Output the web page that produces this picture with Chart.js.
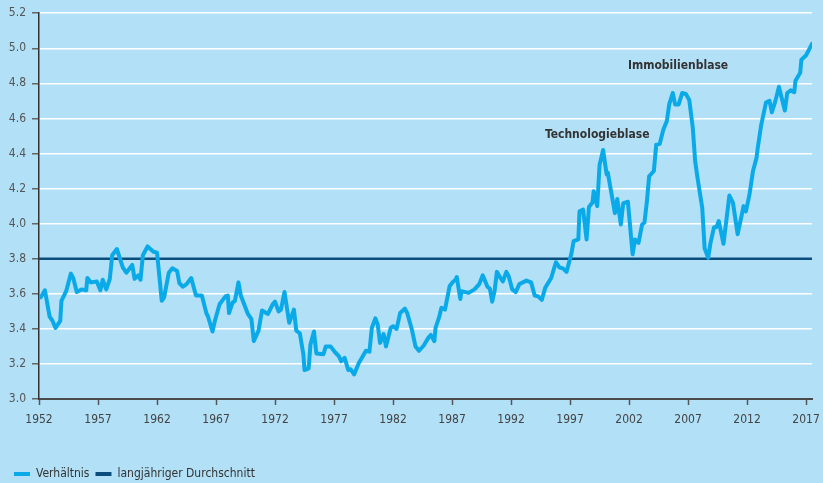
<!DOCTYPE html>
<html><head><meta charset="utf-8">
<script src="https://cdn.jsdelivr.net/npm/chart.js@4/dist/chart.umd.min.js"></script>
<style>
html,body{margin:0;padding:0;background:#b2e0f7;}
#wrap{width:823px;height:483px;position:relative;}
</style></head>
<body><div id="wrap"><canvas id="c" width="823" height="483"></canvas></div>
<script>
const years = [1952.15,1952.5,1952.9,1953.15,1953.4,1953.8,1953.9,1954.3,1954.7,1954.9,1955.2,1955.6,1956.0,1956.1,1956.4,1956.9,1957.2,1957.4,1957.7,1958.0,1958.2,1958.6,1959.1,1959.4,1959.9,1960.1,1960.4,1960.6,1960.8,1961.2,1961.7,1962.0,1962.4,1962.6,1963.0,1963.3,1963.7,1963.9,1964.2,1964.5,1964.9,1965.3,1965.8,1966.2,1966.3,1966.7,1966.9,1967.3,1967.8,1968.0,1968.1,1968.4,1968.6,1968.9,1969.1,1969.7,1970.0,1970.2,1970.6,1970.9,1971.4,1971.8,1972.0,1972.3,1972.5,1972.8,1973.2,1973.6,1973.8,1974.1,1974.4,1974.5,1974.85,1975.0,1975.3,1975.5,1976.1,1976.3,1976.7,1977.1,1977.4,1977.6,1977.9,1978.2,1978.4,1978.7,1979.1,1979.4,1979.7,1980.0,1980.2,1980.5,1980.7,1980.9,1981.2,1981.4,1981.8,1982.0,1982.3,1982.6,1983.0,1983.2,1983.6,1983.9,1984.2,1984.6,1985.0,1985.2,1985.5,1985.6,1985.9,1986.1,1986.4,1986.8,1987.1,1987.3,1987.4,1987.7,1987.8,1988.4,1988.9,1989.3,1989.6,1990.0,1990.2,1990.4,1990.6,1990.8,1991.1,1991.3,1991.6,1991.8,1992.1,1992.4,1992.7,1993.3,1993.7,1994.0,1994.3,1994.6,1994.9,1995.4,1995.8,1996.1,1996.4,1996.7,1997.1,1997.3,1997.7,1997.8,1998.1,1998.4,1998.6,1998.9,1999.0,1999.3,1999.5,1999.8,2000.1,2000.2,2000.8,2001.0,2001.3,2001.5,2001.9,2002.3,2002.5,2002.8,2003.1,2003.3,2003.5,2003.7,2004.1,2004.3,2004.6,2004.9,2005.2,2005.4,2005.7,2005.9,2006.2,2006.5,2006.8,2007.1,2007.4,2007.6,2007.8,2008.2,2008.4,2008.7,2008.9,2009.2,2009.4,2009.6,2010.0,2010.2,2010.5,2010.8,2011.2,2011.5,2011.7,2011.9,2012.2,2012.5,2012.8,2012.9,2013.2,2013.6,2013.9,2014.1,2014.4,2014.7,2014.9,2015.2,2015.4,2015.7,2016.0,2016.1,2016.5,2016.6,2017.0,2017.5];
const ratio = [3.58,3.62,3.47,3.445,3.405,3.445,3.56,3.615,3.715,3.69,3.61,3.625,3.62,3.69,3.665,3.67,3.62,3.68,3.625,3.685,3.82,3.855,3.75,3.72,3.765,3.685,3.705,3.68,3.82,3.87,3.84,3.835,3.56,3.58,3.72,3.745,3.73,3.66,3.64,3.655,3.69,3.59,3.59,3.485,3.475,3.385,3.445,3.54,3.585,3.59,3.49,3.55,3.56,3.665,3.59,3.485,3.455,3.33,3.39,3.505,3.485,3.54,3.555,3.50,3.51,3.61,3.435,3.51,3.39,3.375,3.255,3.165,3.175,3.31,3.385,3.26,3.255,3.30,3.30,3.265,3.245,3.215,3.235,3.165,3.17,3.14,3.205,3.24,3.275,3.27,3.405,3.46,3.425,3.32,3.37,3.30,3.405,3.415,3.40,3.49,3.515,3.49,3.395,3.30,3.275,3.305,3.35,3.365,3.33,3.405,3.465,3.52,3.51,3.645,3.67,3.68,3.695,3.57,3.615,3.605,3.625,3.655,3.705,3.64,3.63,3.555,3.615,3.725,3.69,3.67,3.725,3.70,3.625,3.61,3.655,3.675,3.665,3.59,3.585,3.565,3.635,3.69,3.78,3.75,3.745,3.725,3.825,3.90,3.91,4.07,4.08,3.91,4.095,4.12,4.185,4.10,4.335,4.42,4.28,4.29,4.06,4.14,3.995,4.115,4.125,3.825,3.91,3.89,3.995,4.005,4.12,4.27,4.30,4.45,4.455,4.535,4.585,4.68,4.745,4.68,4.68,4.745,4.74,4.705,4.545,4.355,4.26,4.09,3.86,3.805,3.89,3.98,3.98,4.015,3.885,3.995,4.16,4.12,3.94,4.035,4.10,4.07,4.165,4.30,4.375,4.43,4.565,4.69,4.70,4.635,4.70,4.78,4.725,4.645,4.745,4.76,4.75,4.815,4.86,4.935,4.96,5.025];
const longTermAverage = 3.8;
const xRange = [1952, 2017.5];
const xTickYears = [1952,1957,1962,1967,1972,1977,1982,1987,1992,1997,2002,2007,2012,2017];
const yTickRange = [3.0, 5.2];
const seriesLabels = ['Verhältnis', 'langjähriger Durchschnitt'];
const annotationTexts = ['Technologieblase', 'Immobilienblase'];
const annotationYears = [1999.3, 2006.15];
const annotationValues = [4.505, 4.90];

const FONT = '"Liberation Sans Narrow", "DejaVu Sans Condensed", "Roboto", sans-serif';

const annotPlugin = {
  id: 'annot',
  afterDatasetsDraw(chart) {
    const {ctx, scales} = chart;
    ctx.save();
    ctx.font = 'bold 12px ' + FONT;
    ctx.fillStyle = '#333333';
    ctx.textAlign = 'center';
    ctx.textBaseline = 'middle';
    annotationTexts.forEach((t, i) => {
      ctx.fillText(t, scales.x.getPixelForValue(annotationYears[i]), scales.y.getPixelForValue(annotationValues[i]));
    });
    ctx.restore();
  }
};

new Chart(document.getElementById('c'), {
  type: 'line',
  data: {
    datasets: [
      {
        label: seriesLabels[0],
        data: years.map((x, i) => ({x, y: ratio[i]})),
        borderColor: '#0aaae9',
        backgroundColor: '#0aaae9',
        borderWidth: 4,
        pointRadius: 0,
        tension: 0,
        borderJoinStyle: 'round',
        borderCapStyle: 'round',
        order: 1
      },
      {
        label: seriesLabels[1],
        data: xRange.map(x => ({x, y: longTermAverage})),
        borderColor: '#0b4e7e',
        backgroundColor: '#0b4e7e',
        borderWidth: 2.5,
        pointRadius: 0,
        order: 2
      }
    ]
  },
  options: {
    responsive: false,
    animation: false,
    layout: {padding: {top: 10, right: 11, left: 8, bottom: -7}},
    plugins: {
      tooltip: {enabled: false},
      legend: {
        display: true,
        position: 'bottom',
        align: 'start',
        labels: {
          boxWidth: 16,
          boxHeight: 4,
          padding: 6,
          color: '#333333',
          font: {family: FONT, size: 12},
          generateLabels: (chart) => chart.data.datasets.map((d, i) => ({
            text: d.label, fillStyle: d.borderColor, strokeStyle: d.borderColor,
            lineWidth: 0, hidden: false, datasetIndex: i, fontColor: '#333333'
          }))
        }
      }
    },
    scales: {
      x: {
        type: 'linear',
        min: xRange[0],
        max: xRange[1],
        afterBuildTicks: (s) => { s.ticks = xTickYears.map(v => ({value: v})); },
        afterFit: (s) => { s.height = 63; s.paddingLeft = 0; s.paddingRight = 0; },
        grid: {drawOnChartArea: false, drawTicks: true, tickLength: 6, tickColor: '#555555', tickWidth: 1.5},
        border: {display: true, color: '#4a4a4a', width: 2},
        ticks: {
          autoSkip: false, maxRotation: 0, padding: 8,
          color: '#444444', font: {family: FONT, size: 12},
          callback: (v) => String(v)
        }
      },
      y: {
        min: yTickRange[0],
        max: yTickRange[1],
        afterFit: (s) => { s.width = 31; },
        grid: {color: '#ffffff', lineWidth: 1.5, drawTicks: true, tickLength: 7, tickColor: '#666666', tickWidth: 1.5},
        border: {display: true, color: '#333333', width: 1.5},
        ticks: {
          stepSize: 0.2, padding: 6,
          color: '#555555', font: {family: FONT, size: 12},
          callback: (v) => Number(v).toFixed(1)
        }
      }
    }
  },
  plugins: [annotPlugin]
});
</script>
</body></html>
